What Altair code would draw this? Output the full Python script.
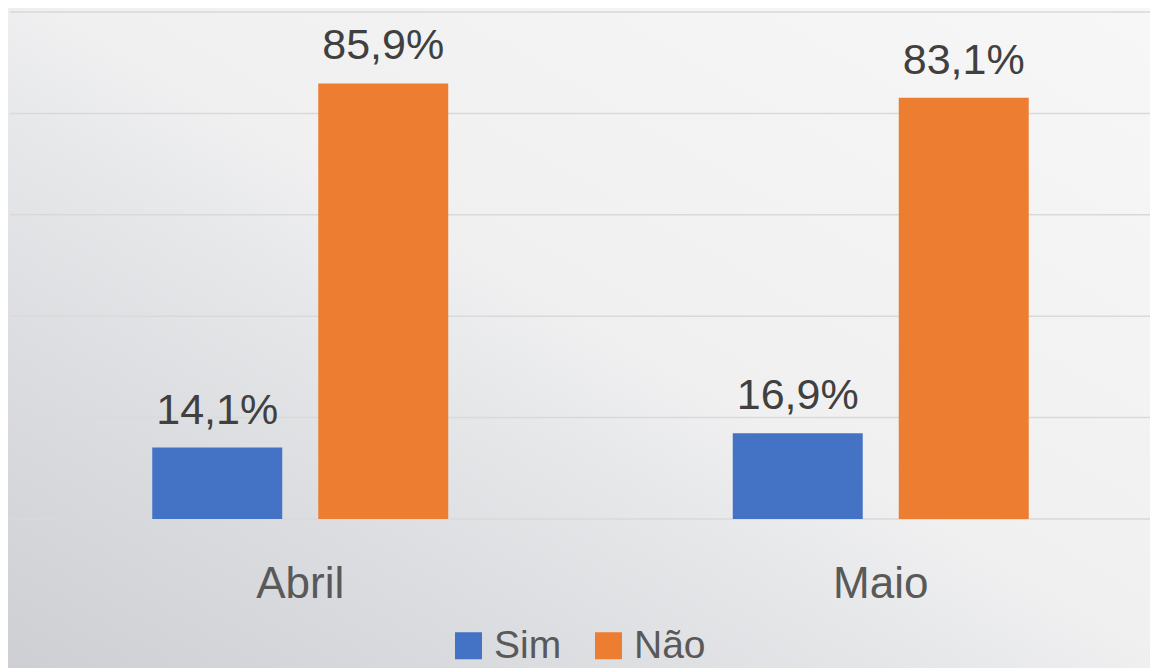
import altair as alt
import pandas as pd

meses = ["Abril", "Maio"]
respostas = ["Sim", "Não"]
sim = [14.1, 16.9]
nao = [85.9, 83.1]
rotulos_sim = ["14,1%", "16,9%"]
rotulos_nao = ["85,9%", "83,1%"]
grid_vals = [0, 20, 40, 60, 80, 100]
cores = ["#4472C4", "#ED7D31"]

rows = []
for i, m in enumerate(meses):
    rows.append({"Mes": m, "Resp": "Sim", "Valor": sim[i], "Rotulo": rotulos_sim[i]})
    rows.append({"Mes": m, "Resp": "Não", "Valor": nao[i], "Rotulo": rotulos_nao[i]})
df = pd.DataFrame(rows)

W, H = 1140, 507
FONT = "Liberation Sans"

xaxis = alt.Axis(title=None, domain=False, ticks=False, grid=False, labelFontSize=44,
                 labelFont=FONT, labelColor="#595959", labelPadding=78,
                 labelBaseline="alphabetic", labelAngle=0, zindex=1)
xenc = alt.X("Mes:N", sort=meses,
             scale=alt.Scale(range=[0, 1161], paddingInner=0, paddingOuter=0),
             axis=xaxis)
xoff = alt.XOffset("Resp:N", sort=respostas,
                   scale=alt.Scale(paddingInner=0.217, paddingOuter=0.857))
yenc = alt.Y("Valor:Q", scale=alt.Scale(domain=[0, 100], nice=False), axis=None)

bg = alt.Chart(pd.DataFrame({"k": [0]})).mark_rect(
    color=alt.LinearGradient(
        gradient="linear",
        stops=[
            alt.GradientStop(color="#cdcfd2", offset=0),
            alt.GradientStop(color="#dcdde0", offset=0.25),
            alt.GradientStop(color="#e7e8ea", offset=0.42),
            alt.GradientStop(color="#f0f0f1", offset=0.52),
            alt.GradientStop(color="#f7f7f7", offset=1),
        ],
        x1=0, y1=1, x2=1, y2=0,
    )
).encode(x=alt.value(-2), x2=alt.value(1142), y=alt.value(-4), y2=alt.value(660))

grid = alt.Chart(pd.DataFrame({"v": grid_vals})).mark_rule(
    color="#d9d9d9", strokeWidth=1.5
).encode(
    y=alt.Y("v:Q", scale=alt.Scale(domain=[0, 100], nice=False), axis=None),
    x=alt.value(0), x2=alt.value(W),
)

bars = alt.Chart(df).mark_bar().encode(
    x=xenc, xOffset=xoff, y=yenc,
    color=alt.Color("Resp:N", sort=respostas,
                    scale=alt.Scale(domain=respostas, range=cores),
                    legend=alt.Legend(title=None, orient="none", legendX=439, legendY=614,
                                      direction="horizontal", symbolType="square",
                                      symbolSize=729, symbolStrokeWidth=0,
                                      labelFontSize=39, labelFont=FONT,
                                      labelColor="#595959", labelOffset=6,
                                      columnPadding=27, padding=0, zindex=1)),
)

text = alt.Chart(df).mark_text(
    fontSize=43, font=FONT, color="#404040", baseline="alphabetic", dy=-24
).encode(x=xenc, xOffset=xoff, y=yenc, text="Rotulo:N")

chart = alt.layer(bg, grid, bars, text).properties(
    width=W, height=H,
    padding={"left": 2, "top": 4, "right": 0, "bottom": 149},
    autosize=alt.AutoSizeParams(type="none"),
    background="#f0f0f0",
).configure_view(stroke=None)

chart.save("out.html", embed_options={"renderer": "svg", "actions": False})
